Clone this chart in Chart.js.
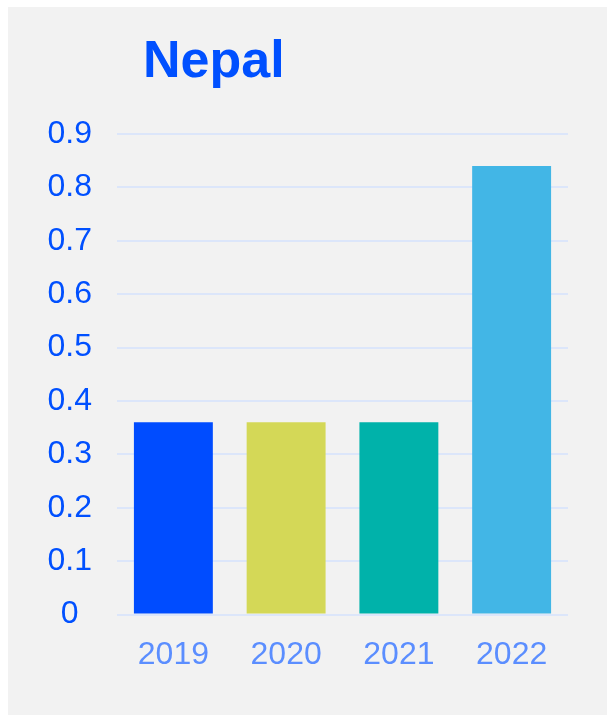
<!DOCTYPE html>
<html>
<head>
<meta charset="utf-8">
<script src="https://cdn.jsdelivr.net/npm/chart.js@4"></script>
<style>
  body { margin: 0; padding: 7px 0 0 8px; background: #fff; }
  canvas { display: block; background: #f2f2f2; }
</style>
</head>
<body>
<canvas id="myChart" width="599" height="708"></canvas>
<script>
// Chart data
let chartTitle = 'Nepal';
let years = ['2019', '2020', '2021', '2022'];
let values = [0.36, 0.36, 0.36, 0.84];
let barColors = ['#004cff', '#d4d857', '#00b2aa', '#42b6e6'];
let yTickValues = [0, 0.1, 0.2, 0.3, 0.4, 0.5, 0.6, 0.7, 0.8, 0.9];
let yTickLabels = ['0', '0.1', '0.2', '0.3', '0.4', '0.5', '0.6', '0.7', '0.8', '0.9'];

// title drawn at left, not centred over the plot
let titlePlugin = {
  id: 'sideTitle',
  afterDraw(chart) {
    let ctx = chart.ctx;
    ctx.save();
    ctx.font = 'bold 52px Arial, "Liberation Sans", sans-serif';
    ctx.fillStyle = '#0050ff';
    ctx.textAlign = 'left';
    ctx.textBaseline = 'alphabetic';
    ctx.fillText(chartTitle, 135, 70);
    ctx.restore();
  }
};

function chartRender() {
  let ctx = document.getElementById('myChart').getContext('2d');
  // eslint-disable-next-line no-undef
  let myChart = new Chart(ctx, {
    type: 'bar',
    data: {
      labels: years,
      datasets: [{
        data: values,
        backgroundColor: barColors,
        borderWidth: 0,
        barPercentage: 0.7,
        categoryPercentage: 1
      }]
    },
    options: {
      responsive: false,
      animation: false,
      devicePixelRatio: 1,
      layout: {
        padding: { left: 0, right: 39, top: 127, bottom: 28 }
      },
      plugins: {
        legend: { display: false },
        tooltip: { enabled: false }
      },
      scales: {
        x: {
          grid: { display: false },
          border: { display: false },
          ticks: {
            color: '#5b8eff',
            padding: 13,
            font: { size: 32, family: 'Arial, "Liberation Sans", sans-serif' }
          }
        },
        y: {
          min: 0,
          max: 0.9,
          afterFit(scale) { scale.width = 109; },
          afterBuildTicks(scale) {
            scale.ticks = yTickValues.map(v => ({ value: v }));
          },
          grid: { color: '#dce6fa', lineWidth: 2, drawTicks: false },
          border: { display: false },
          ticks: {
            color: '#0050ff',
            padding: 25,
            crossAlign: 'center',
            font: { size: 32, family: 'Arial, "Liberation Sans", sans-serif' },
            callback: (val, i) => yTickLabels[i]
          }
        }
      }
    },
    plugins: [titlePlugin]
  });
}
chartRender();
</script>
</body>
</html>
